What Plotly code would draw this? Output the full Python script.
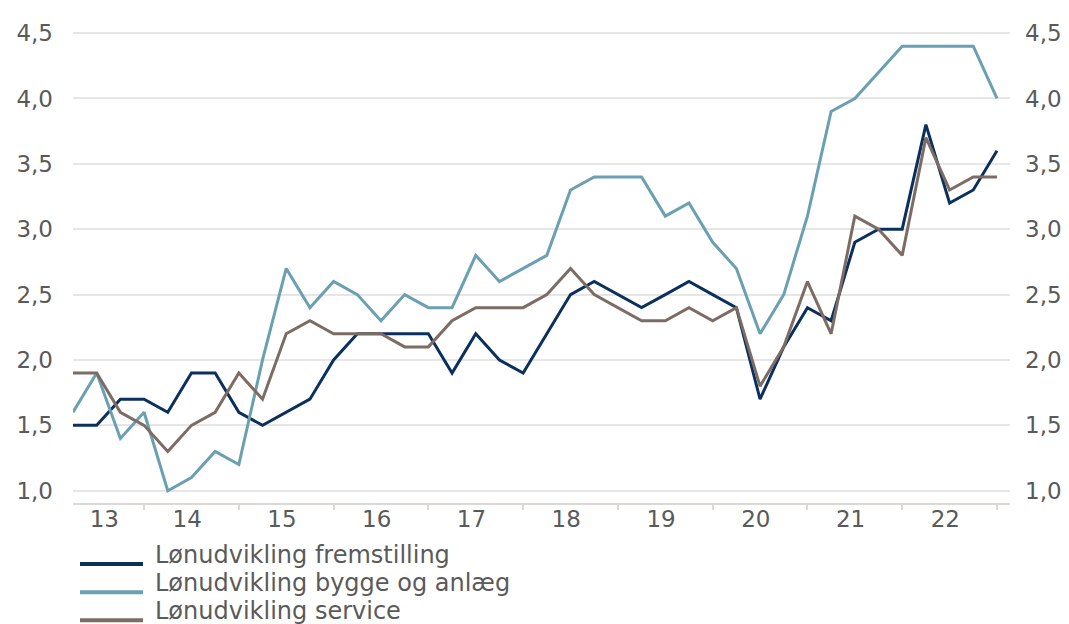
import plotly.graph_objects as go

# Quarterly data, 2013K1 - 2022K4
quarters = [f"{y}K{q}" for y in range(2013, 2023) for q in range(1, 5)]

fremstilling = [1.5, 1.5, 1.7, 1.7, 1.6, 1.9, 1.9, 1.6, 1.5, 1.6,
                1.7, 2.0, 2.2, 2.2, 2.2, 2.2, 1.9, 2.2, 2.0, 1.9,
                2.2, 2.5, 2.6, 2.5, 2.4, 2.5, 2.6, 2.5, 2.4, 1.7,
                2.1, 2.4, 2.3, 2.9, 3.0, 3.0, 3.8, 3.2, 3.3, 3.6]

bygge_anlaeg = [1.6, 1.9, 1.4, 1.6, 1.0, 1.1, 1.3, 1.2, 2.0, 2.7,
                2.4, 2.6, 2.5, 2.3, 2.5, 2.4, 2.4, 2.8, 2.6, 2.7,
                2.8, 3.3, 3.4, 3.4, 3.4, 3.1, 3.2, 2.9, 2.7, 2.2,
                2.5, 3.1, 3.9, 4.0, 4.2, 4.4, 4.4, 4.4, 4.4, 4.0]

service = [1.9, 1.9, 1.6, 1.5, 1.3, 1.5, 1.6, 1.9, 1.7, 2.2,
           2.3, 2.2, 2.2, 2.2, 2.1, 2.1, 2.3, 2.4, 2.4, 2.4,
           2.5, 2.7, 2.5, 2.4, 2.3, 2.3, 2.4, 2.3, 2.4, 1.8,
           2.1, 2.6, 2.2, 3.1, 3.0, 2.8, 3.7, 3.3, 3.4, 3.4]

series_names = ["Lønudvikling fremstilling",
                "Lønudvikling bygge og anlæg",
                "Lønudvikling service"]
year_labels = ["13", "14", "15", "16", "17", "18", "19", "20", "21", "22"]
y_ticks = [1.0, 1.5, 2.0, 2.5, 3.0, 3.5, 4.0, 4.5]

colors = ["#0b305e", "#6b9fb2", "#7d6c64"]
FONT = "DejaVu Sans"
TXT = "#5a5a5a"

xi = list(range(len(quarters)))
# year boundaries at each Q4 point, labels centred between boundaries
boundaries = [i for i, q in enumerate(quarters) if q.endswith("K4")]
label_pos = []
prev = 0
for b in boundaries:
    label_pos.append((prev + b) / 2 - 0.18)
    prev = b

fig = go.Figure()
for name, vals, col in zip(series_names, [fremstilling, bygge_anlaeg, service], colors):
    fig.add_trace(go.Scatter(x=xi, y=vals, mode="lines", name=name,
                             line=dict(color=col, width=3),
                             customdata=quarters,
                             hovertemplate="%{customdata}: %{y}<extra></extra>",
                             showlegend=False))

# the page body has an 8px margin, so figure pixel = page pixel - 8
OFF = 8
W, H = 1069, 624
L = 73 - OFF
T = 20 - OFF
R = W - (1010 - OFF)
B = H - (503.3 - OFF)
fig.update_layout(
    width=W, height=H,
    margin=dict(l=L, r=R, t=T, b=B, autoexpand=False),
    plot_bgcolor="white", paper_bgcolor="white",
    separators=",.",
    font=dict(family=FONT, size=23, color=TXT),
    xaxis=dict(range=[0, 39.55], tickmode="array", tickvals=label_pos,
               ticktext=year_labels, ticks="", showgrid=False, automargin=False,
               showline=True, linecolor="#dcd8d3", linewidth=1.5,
               zeroline=False, ticklabelstandoff=-5,
               tickfont=dict(family=FONT, size=23, color=TXT),
               minor=dict(tickmode="array", tickvals=boundaries, ticks="outside",
                          ticklen=5, tickcolor="#dcd8d3", tickwidth=1.5,
                          showgrid=False)),
    yaxis=dict(range=[0.906, 4.6], tickmode="array", tickvals=y_ticks,
               tickformat=".1f", showgrid=True, gridcolor="#e6e6e6",
               gridwidth=1.5, zeroline=False, showline=False, ticks="",
               ticklabelstandoff=19, automargin=False,
               tickfont=dict(family=FONT, size=23, color=TXT)),
    yaxis2=dict(range=[0.906, 4.6], tickmode="array", tickvals=y_ticks,
                tickformat=".1f", overlaying="y", side="right",
                showgrid=False, zeroline=False, showline=False, ticks="",
                ticklabelstandoff=14, automargin=False,
                tickfont=dict(family=FONT, size=23, color=TXT)),
)

# invisible helper so the right axis is drawn
fig.add_trace(go.Scatter(x=[xi[0]], y=[fremstilling[0]], yaxis="y2", mode="lines",
                         line=dict(width=0), showlegend=False, hoverinfo="skip"))

# custom legend below the plot (positions given in page pixels)
plot_w = W - L - R
plot_h = H - T - B
def px_x(px):
    return (px - OFF - L) / plot_w
def px_y(py):
    return (H - B - (py - OFF)) / plot_h

legend_rows = [564.3, 592.5, 620.5]
for name, col, py in zip(series_names, colors, legend_rows):
    fig.add_shape(type="line", xref="paper", yref="paper",
                  x0=px_x(80), x1=px_x(143), y0=px_y(py), y1=px_y(py),
                  line=dict(color=col, width=4))
    fig.add_annotation(xref="paper", yref="paper", x=px_x(153), y=px_y(py - 9),
                       xanchor="left", yanchor="middle", showarrow=False,
                       text=name, font=dict(family=FONT, size=24, color=TXT))

fig.write_html("out.html")
